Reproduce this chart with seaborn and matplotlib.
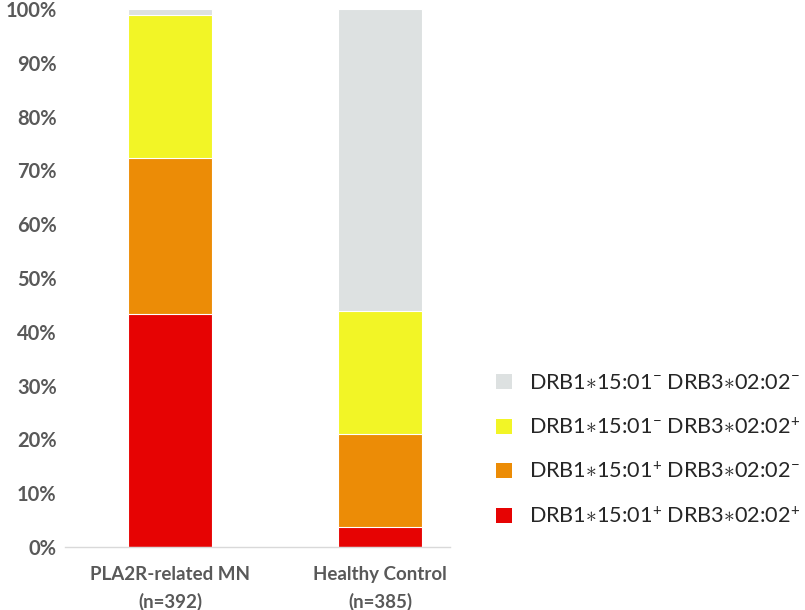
import matplotlib
matplotlib.use("Agg")
import matplotlib.pyplot as plt
from matplotlib.patches import Patch
from matplotlib.ticker import PercentFormatter
import numpy as np
import pandas as pd
import seaborn as sns

# data (fractions of each group)
groups = ["PLA2R-related MN\n(n=392)", "Healthy Control\n(n=385)"]
both_pos = [0.433, 0.037]        # DRB1*15:01+ DRB3*02:02+
drb1_only = [0.290, 0.173]       # DRB1*15:01+ DRB3*02:02-
drb3_only = [0.266, 0.229]       # DRB1*15:01- DRB3*02:02+
both_neg = [0.011, 0.561]        # DRB1*15:01- DRB3*02:02-

series_labels = [
    r"DRB1$\ast$15:01$^{-}$ DRB3$\ast$02:02$^{-}$",
    r"DRB1$\ast$15:01$^{-}$ DRB3$\ast$02:02$^{+}$",
    r"DRB1$\ast$15:01$^{+}$ DRB3$\ast$02:02$^{-}$",
    r"DRB1$\ast$15:01$^{+}$ DRB3$\ast$02:02$^{+}$",
]
colors = ["#DDE1E1", "#F2F526", "#EC8C06", "#E60303"]

sns.set_theme(style="white")
plt.rcParams['font.family'] = ['Lato', 'DejaVu Sans']
plt.rcParams['mathtext.fontset'] = 'custom'
plt.rcParams['mathtext.rm'] = 'Lato'
plt.rcParams['mathtext.it'] = 'Lato'
plt.rcParams['mathtext.bf'] = 'Lato:bold'

df = pd.DataFrame({
    "group": groups,
    "red": both_pos,
    "orange": drb1_only,
    "yellow": drb3_only,
    "grey": both_neg,
})
# cumulative tops so later (shorter) bars sit in front
df["c_red"] = df["red"]
df["c_orange"] = df["c_red"] + df["orange"]
df["c_yellow"] = df["c_orange"] + df["yellow"]
df["c_grey"] = df["c_yellow"] + df["grey"]

fig = plt.figure(figsize=(8.05, 6.10), dpi=100)
ax = fig.add_axes([0.0807, 0.1033, 0.4783, 0.882])

for col, color in zip(["c_grey", "c_yellow", "c_orange", "c_red"], colors):
    sns.barplot(data=df, x="group", y=col, color=color, width=0.4,
                saturation=1, ax=ax, edgecolor="white", linewidth=0.8)

ax.set_xlim(-0.5, 1.333)
ax.set_ylim(0, 1)
ax.set_yticks(np.arange(0, 1.01, 0.1))
ax.yaxis.set_major_formatter(PercentFormatter(1.0, decimals=0))
ax.set_xlabel("")
ax.set_ylabel("")
for s in ["top", "right", "left"]:
    ax.spines[s].set_visible(False)
ax.spines["bottom"].set_color("#D9D9D9")
ax.spines["bottom"].set_linewidth(1.0)
ax.tick_params(axis="both", length=0, labelcolor="#595959")
ax.tick_params(axis="x", pad=14, labelsize=13.5)
ax.tick_params(axis="y", pad=6, labelsize=14.5)
for lab in ax.get_xticklabels() + ax.get_yticklabels():
    lab.set_fontweight("bold")
for lab in ax.get_xticklabels():
    lab.set_linespacing(1.6)

handles = [Patch(facecolor=c, edgecolor="none") for c in colors]
fig.legend(handles, series_labels, loc="center left",
           bbox_to_anchor=(0.606, 0.262), frameon=False, fontsize=15.6,
           handlelength=0.7, handleheight=0.7, labelspacing=1.1,
           handletextpad=0.78, borderpad=0.4, borderaxespad=0)

fig.savefig("out.png", dpi=100)
